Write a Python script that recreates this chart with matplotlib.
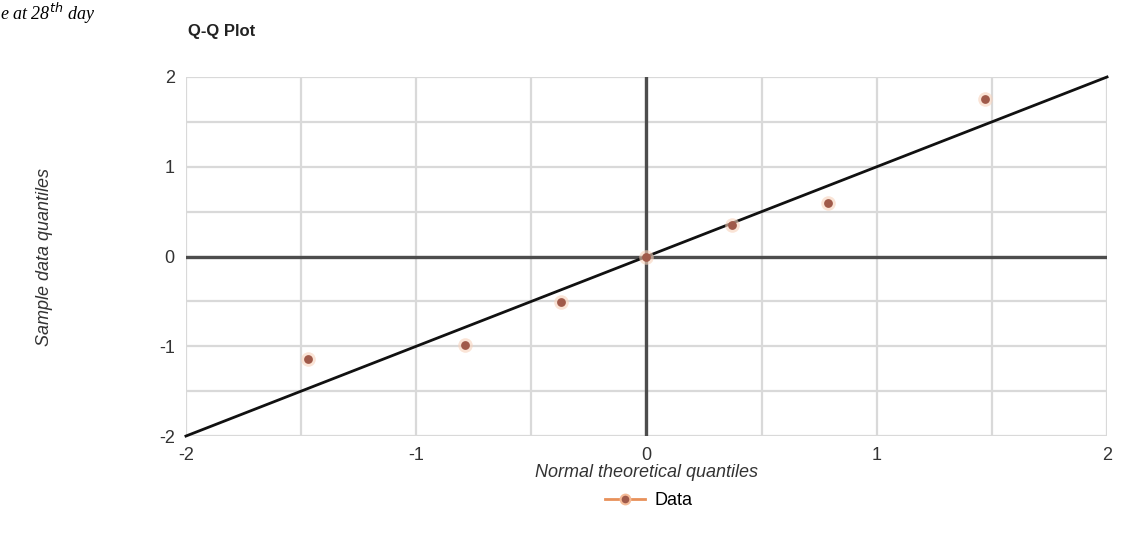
import numpy as np
import matplotlib
matplotlib.use("Agg")
import matplotlib.pyplot as plt
from matplotlib.lines import Line2D

plt.rcParams['font.family'] = ['Liberation Sans', 'DejaVu Sans']
plt.rcParams['axes.unicode_minus'] = False

# data
theoretical = [-1.47, -0.79, -0.37, 0.0, 0.37, 0.79, 1.47]
sample = [-1.14, -0.99, -0.51, 0.0, 0.35, 0.60, 1.75]
ref_x = [-2, 2]
ref_y = [-2, 2]
ticks = [-2, -1, 0, 1, 2]

fig = plt.figure(figsize=(11.38, 5.41), dpi=100)
ax = fig.add_axes([0.1634, 0.194, 0.8094, 0.6637])

ax.set_xlim(-2, 2)
ax.set_ylim(-2, 2)
ax.set_xticks(ticks)
ax.set_yticks(ticks)
ax.set_xticks(np.arange(-2, 2.01, 0.5), minor=True)
ax.set_yticks(np.arange(-2, 2.01, 0.5), minor=True)
ax.set_axisbelow(True)
ax.grid(True, which='both', color='#d9d9d9', lw=1.6)
ax.tick_params(which='both', length=0, labelsize=13, colors='#333333', pad=8)
for s in ax.spines.values():
    s.set_visible(False)

# zero axes
ax.axhline(0, color='#4d4d4d', lw=2.4, zorder=2)
ax.axvline(0, color='#4d4d4d', lw=2.4, zorder=2)

# reference line
ax.plot(ref_x, ref_y, color='#111111', lw=2, zorder=3, clip_on=False)

# data points
ax.scatter(theoretical, sample, s=110, color='#f8d2bc', alpha=0.6, zorder=4, lw=0)
ax.scatter(theoretical, sample, s=40, color='#a05a4a', zorder=5, lw=0)

ax.set_xlabel('Normal theoretical quantiles', fontsize=13, style='italic',
              color='#333333', labelpad=0)
ax.set_ylabel('Sample data quantiles', fontsize=13, style='italic',
              color='#333333', labelpad=76)

handle = Line2D([], [], color='#e8915a', lw=2, marker='o', markersize=7,
                markerfacecolor='#a05a4a', markeredgecolor='#f4bb98', markeredgewidth=1.5)
fig.legend([handle], ['Data'], loc='center', bbox_to_anchor=(0.57, 0.075),
           frameon=False, fontsize=13, handlelength=2.2, handletextpad=0.5)

fig.text(0.165, 0.934, 'Q-Q Plot', fontsize=12, fontweight='bold', color='#222222')
fig.text(0.0, 0.999, 'e at 28$^{th}$ day', fontsize=13, family='Liberation Serif',
         style='italic', va='top', color='black')

fig.savefig('out.png', dpi=100)
